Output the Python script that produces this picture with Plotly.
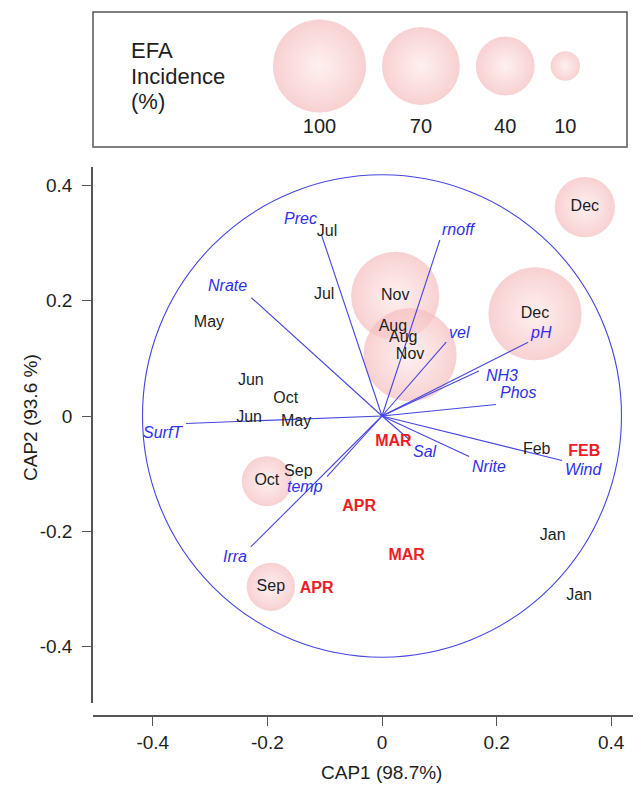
import math
import plotly.graph_objects as go

# The page body has an 8px default margin, so the figure is drawn 8px smaller
# and every reference-pixel coordinate is shifted by OFF.
OFF = 8
REF_W, REF_H = 641, 786
W, H = REF_W - OFF, REF_H - OFF

# ---------------- data ----------------
# sample scores (lower-case month labels); EFA incidence (%) gives bubble size (0 = no bubble)
sample_month = ["Jul", "Jul", "May", "Jun", "Oct", "Jun", "May", "Sep", "Feb", "Jan", "Jan",
                "Dec", "Nov", "Aug", "Aug", "Nov", "Dec", "Oct", "Sep"]
sample_cap1 = [-0.096, -0.101, -0.302, -0.229, -0.168, -0.232, -0.150, -0.146, 0.270, 0.298, 0.344,
               0.354, 0.023, 0.019, 0.037, 0.049, 0.267, -0.201, -0.194]
sample_cap2 = [0.319, 0.210, 0.162, 0.061, 0.029, -0.004, -0.010, -0.097, -0.059, -0.208, -0.312,
               0.362, 0.208, 0.154, 0.135, 0.106, 0.177, -0.113, -0.296]
sample_efa = [0, 0, 0, 0, 0, 0, 0, 0, 0, 0, 0,
              42, 90, 0, 0, 100, 100, 29, 27]

# upper-case (red) sample labels
other_month = ["MAR", "APR", "MAR", "APR", "FEB"]
other_cap1 = [0.020, -0.040, 0.043, -0.114, 0.353]
other_cap2 = [-0.045, -0.157, -0.243, -0.300, -0.062]

# environmental vectors (end points)
var_names = ["Prec", "rnoff", "Nrate", "vel", "pH", "NH3", "Phos", "SurfT", "Sal", "Nrite", "Wind", "temp", "Irra"]
var_cap1 = [-0.106, 0.101, -0.228, 0.112, 0.255, 0.169, 0.199, -0.342, 0.049, 0.152, 0.314, -0.096, -0.229]
var_cap2 = [0.315, 0.305, 0.205, 0.128, 0.128, 0.078, 0.020, -0.013, -0.042, -0.070, -0.077, -0.105, -0.227]

circle_radius = 0.418

legend_values = [100, 70, 40, 10]
legend_labels = ["100", "70", "40", "10"]

x_ticks = [-0.4, -0.2, 0, 0.2, 0.4]
x_ticktext = ["-0.4", "-0.2", "0", "0.2", "0.4"]
y_ticks = [-0.4, -0.2, 0, 0.2, 0.4]
y_ticktext = ["-0.4", "-0.2", "0", "0.2", "0.4"]

# ---------------- styling ----------------
FONT = "Liberation Sans, Arial, sans-serif"
BLUE_LINE = "#4646E0"
BLUE_TEXT = "#2F2FEA"
RED = "#EE1C25"
BLACK = "#1E1E1E"
AXIS = "#555555"
BUB_CENTER = "#FDEAEA"
BUB_EDGE = "#F5BDBE"
MAX_DIAM = 93.0
# plotly area mode: diameter = 2*sqrt(size/(2*sizeref))
sizeref = 2.0 * 100.0 / MAX_DIAM ** 2

# label offsets for vector names (px, screen coords)
label_offsets = {
    "Prec": (-21, -16), "rnoff": (19, -11), "Nrate": (-24, -12), "vel": (13, -10),
    "pH": (13, -10), "NH3": (23, 5), "Phos": (22, -12), "SurfT": (-23, 9),
    "Sal": (15, 11), "Nrite": (20, 10), "Wind": (22, 9), "temp": (-22, 10), "Irra": (-16, 10),
}

# reference-pixel geometry of the main plot
x_px0, x_px1, x_zero = 93, 641, 382
y_px0, y_px1, y_zero = 167, 703, 416
sx, sy = 573.0, 577.0
x_axis_px = 716


def fx(p):
    return (p - OFF) / W


def fy(p):
    return 1 - (p - OFF) / H


fig = go.Figure()

bubble_marker = dict(sizemode="area", sizeref=sizeref, color=BUB_EDGE,
                     gradient=dict(type="radial", color=BUB_CENTER), line=dict(width=0))

# bubbles
bx = [x for x, e in zip(sample_cap1, sample_efa) if e > 0]
by = [y for y, e in zip(sample_cap2, sample_efa) if e > 0]
be = [e for e in sample_efa if e > 0]
fig.add_trace(go.Scatter(
    x=bx, y=by, mode="markers", hoverinfo="skip",
    marker=dict(size=be, **bubble_marker),
    showlegend=False, cliponaxis=False,
))

# vectors
vx, vy = [], []
for ex, ey in zip(var_cap1, var_cap2):
    vx += [0, ex, None]
    vy += [0, ey, None]
fig.add_trace(go.Scatter(x=vx, y=vy, mode="lines", line=dict(color=BLUE_LINE, width=1.1),
                         hoverinfo="skip", showlegend=False))

# sample labels
fig.add_trace(go.Scatter(
    x=sample_cap1, y=sample_cap2, mode="text", text=sample_month,
    textfont=dict(family=FONT, size=16, color=BLACK), textposition="middle center",
    showlegend=False, cliponaxis=False, hoverinfo="skip",
))
fig.add_trace(go.Scatter(
    x=other_cap1, y=other_cap2, mode="text", text=other_month,
    textfont=dict(family=FONT, size=16, color=RED, weight="bold"), textposition="middle center",
    showlegend=False, cliponaxis=False, hoverinfo="skip",
))

annotations = []
for name, ex, ey in zip(var_names, var_cap1, var_cap2):
    dx, dy = label_offsets[name]
    annotations.append(dict(
        x=ex, y=ey, xref="x", yref="y", text=name, showarrow=False,
        xshift=dx, yshift=-dy, font=dict(family=FONT, size=16, color=BLUE_TEXT, style="italic"),
        xanchor="center", yanchor="middle",
    ))

# legend (overlay axes x2/y2 in reference pixels)
leg_left, leg_gap, leg_cy = 273.0, 16.0, 66.0
leg_cx = []
cur = leg_left
for v in legend_values:
    d = MAX_DIAM * math.sqrt(v / 100.0)
    leg_cx.append(cur + d / 2)
    cur += d + leg_gap
fig.add_trace(go.Scatter(
    x=leg_cx, y=[leg_cy] * len(legend_values), xaxis="x2", yaxis="y2", mode="markers",
    marker=dict(size=legend_values, **bubble_marker),
    showlegend=False, hoverinfo="skip", cliponaxis=False,
))
fig.add_trace(go.Scatter(
    x=leg_cx, y=[128] * len(legend_values), xaxis="x2", yaxis="y2", mode="text",
    text=legend_labels, textfont=dict(family=FONT, size=20, color=BLACK),
    showlegend=False, hoverinfo="skip", cliponaxis=False,
))
for txt, yy in [("EFA", 50), ("Incidence", 76), ("(%)", 101)]:
    annotations.append(dict(x=129, y=yy, xref="x2", yref="y2", text=txt, showarrow=False,
                            xanchor="left", yanchor="middle",
                            font=dict(family=FONT, size=22, color=BLACK)))

# axis titles
annotations.append(dict(x=fx(381), y=fy(772), xref="paper", yref="paper", text="CAP1 (98.7%)",
                        showarrow=False, xanchor="center", yanchor="middle",
                        font=dict(family=FONT, size=19, color=BLACK)))
annotations.append(dict(x=fx(30), y=fy(418), xref="paper", yref="paper", text="CAP2 (93.6 %)",
                        showarrow=False, xanchor="center", yanchor="middle", textangle=-90,
                        font=dict(family=FONT, size=19, color=BLACK)))

shapes = [
    dict(type="circle", xref="x", yref="y", x0=-circle_radius, x1=circle_radius,
         y0=-circle_radius, y1=circle_radius, line=dict(color=BLUE_LINE, width=1.1), layer="below"),
    dict(type="rect", xref="x2", yref="y2", x0=93, x1=627, y0=12, y1=147,
         line=dict(color="#555555", width=1.5)),
]

axis_common = dict(showline=True, linecolor=AXIS, linewidth=1.5, ticks="outside", ticklen=9,
                   tickcolor=AXIS, tickwidth=1.2, showgrid=False, zeroline=False,
                   tickfont=dict(family=FONT, size=19, color=BLACK))

fig.update_layout(
    width=W, height=H, margin=dict(l=0, r=0, t=0, b=0),
    paper_bgcolor="white", plot_bgcolor="rgba(0,0,0,0)",
    xaxis=dict(domain=[fx(x_px0), min(1.0, fx(x_px1))],
               range=[(x_px0 - x_zero) / sx, (x_px1 - x_zero) / sx],
               tickvals=x_ticks, ticktext=x_ticktext, anchor="free", position=fy(x_axis_px),
               **axis_common),
    yaxis=dict(domain=[fy(y_px1), fy(y_px0)],
               range=[(y_zero - y_px1) / sy, (y_zero - y_px0) / sy],
               tickvals=y_ticks, ticktext=y_ticktext, anchor="x", ticklabelstandoff=6,
               **axis_common),
    xaxis2=dict(domain=[0, 1], range=[OFF, OFF + W], visible=False, anchor="y2", fixedrange=True),
    yaxis2=dict(domain=[0, 1], range=[OFF + H, OFF], visible=False, anchor="x2", fixedrange=True),
    annotations=annotations, shapes=shapes, showlegend=False,
)

fig.write_html("out.html")
